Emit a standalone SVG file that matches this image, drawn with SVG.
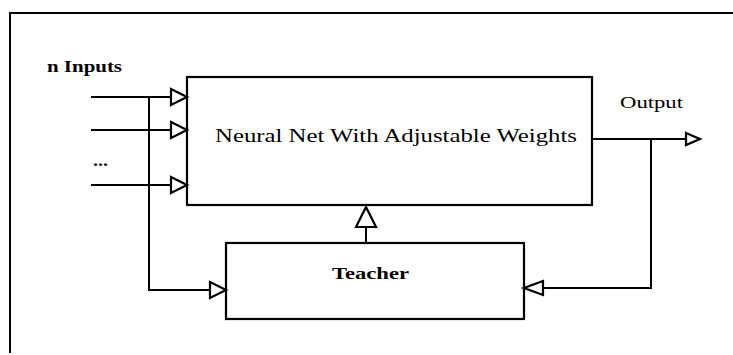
<svg xmlns="http://www.w3.org/2000/svg" width="733" height="355" viewBox="0 0 733 355">
<defs>
<style>
.ln{fill:none;stroke:#000;stroke-width:2}
.box{fill:#fff;stroke:#000;stroke-width:2.2}
.ah{fill:#fff;stroke:#000;stroke-width:2.2;stroke-linejoin:miter}
.t{font-family:"Liberation Serif",serif;fill:#000}
</style>
</defs>
<rect width="733" height="355" fill="#fff"/>
<g id="frame">
<path class="ln" d="M10,353 V13 H733"/>
</g>
<g id="labels">
<text class="t" x="47" y="72" font-size="17" font-weight="bold" textLength="75" lengthAdjust="spacingAndGlyphs">n Inputs</text>
<text class="t" x="93" y="166" font-size="16" font-weight="bold" textLength="15" lengthAdjust="spacingAndGlyphs">...</text>
<text class="t" x="620" y="108" font-size="16" textLength="63" lengthAdjust="spacingAndGlyphs">Output</text>
</g>
<g id="nn">
<rect class="box" x="187" y="77" width="405" height="128"/>
<text class="t" x="215" y="142" font-size="18" textLength="362" lengthAdjust="spacingAndGlyphs">Neural Net With Adjustable Weights</text>
</g>
<g id="teacher">
<rect class="box" x="226" y="243" width="298" height="76"/>
<text class="t" x="332" y="279" font-size="17" font-weight="bold" textLength="77" lengthAdjust="spacingAndGlyphs">Teacher</text>
</g>
<g id="connectors">
<path class="ln" d="M91,97 H171"/>
<path class="ln" d="M91,130 H171"/>
<path class="ln" d="M91,185 H171"/>
<path class="ln" d="M149,97 V290 H210"/>
<path class="ln" d="M366,243 V227"/>
<path class="ln" d="M592,139 H686"/>
<path class="ln" d="M651,139 V288 H543"/>
<polygon class="ah" points="171,89 187,97 171,105"/>
<polygon class="ah" points="171,122 187,130 171,138"/>
<polygon class="ah" points="171,177 187,185 171,193"/>
<polygon class="ah" points="210,282 226,290 210,298"/>
<polygon class="ah" points="356,227 366,207 376,227"/>
<polygon class="ah" points="686,133 700,139 686,145"/>
<polygon class="ah" points="543,281 524,288 543,295"/>
</g>
</svg>
